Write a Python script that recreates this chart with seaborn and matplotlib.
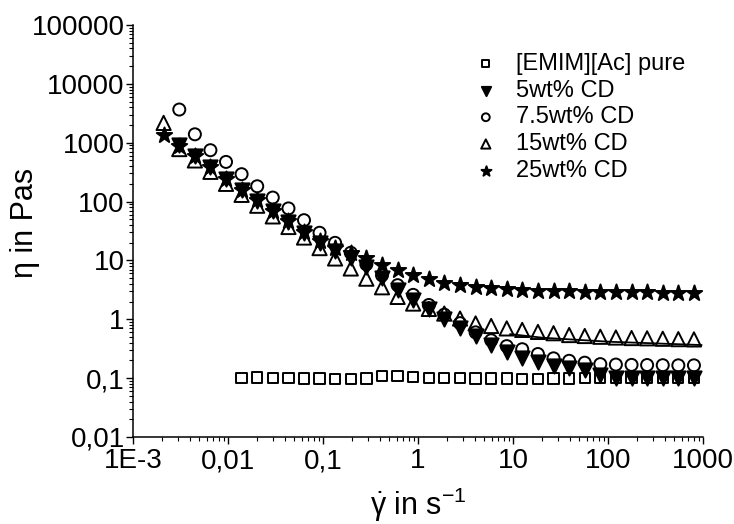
import numpy as np
import pandas as pd
import matplotlib
matplotlib.use("Agg")
import matplotlib.pyplot as plt
import seaborn as sns
from matplotlib.ticker import FixedLocator, FixedFormatter, LogLocator, NullFormatter

# ---------------- data ----------------
shear_rate = [0.0021, 0.00307, 0.00448, 0.00653, 0.00953, 0.0139, 0.0203, 0.0296,
              0.0433, 0.0631, 0.092, 0.134, 0.196, 0.286, 0.418, 0.61, 0.889, 1.3,
              1.89, 2.77, 4.04, 5.89, 8.59, 12.5, 18.3, 26.7, 39.0, 56.9, 83.0, 121,
              177, 258, 377, 550, 803]

eta_pure = [0.100, 0.102, 0.101, 0.100, 0.099, 0.099, 0.098, 0.098, 0.099, 0.108,
            0.110, 0.104, 0.101, 0.100, 0.100, 0.099, 0.099, 0.099, 0.098, 0.098,
            0.099, 0.099, 0.100, 0.100, 0.100, 0.100, 0.100, 0.100, 0.100, 0.100]

eta_5 = [900, 590, 380, 240, 156, 103, 68, 45, 29.5, 19.5, 14.5, 10.8, 7.8, 5.0,
         3.2, 2.1, 1.5, 1.0, 0.72, 0.52, 0.37, 0.28, 0.216, 0.19, 0.16, 0.15,
         0.137, 0.112, 0.102, 0.100, 0.100, 0.100, 0.100, 0.100]

eta_75 = [3660, 1390, 746, 472, 292, 182, 117, 76.5, 48.3, 29.5, 19.9, 13.5, 8.6,
          5.6, 3.8, 2.6, 1.75, 1.2, 0.86, 0.6, 0.44, 0.35, 0.31, 0.257, 0.217,
          0.197, 0.183, 0.173, 0.17, 0.168, 0.167, 0.166, 0.165, 0.165]

eta_15 = [2170, 780, 500, 320, 200, 130, 85, 56, 37, 24.5, 16.2, 10.8, 7.3, 4.9,
          3.5, 2.4, 1.85, 1.5, 1.25, 1.03, 0.85, 0.77, 0.70, 0.66, 0.61, 0.58,
          0.54, 0.52, 0.505, 0.49, 0.48, 0.475, 0.467, 0.46, 0.455]

eta_25 = [1340, 870, 600, 385, 245, 160, 105, 70, 46, 31, 21, 16, 13.2, 10.8, 8.5,
          6.9, 5.7, 4.8, 4.2, 3.8, 3.5, 3.35, 3.22, 3.13, 3.05, 3.0, 2.97, 2.94,
          2.92, 2.9, 2.88, 2.86, 2.84, 2.82, 2.8]

fit_rate = [9.3, 20.7, 105, 968]
fit_eta = [0.56, 0.485, 0.415, 0.365]

labels = ["[EMIM][Ac] pure", "5wt% CD", "7.5wt% CD", "15wt% CD", "25wt% CD"]

x_ticks = [1e-3, 1e-2, 1e-1, 1, 10, 100, 1000]
x_ticklabels = ["1E-3", "0,01", "0,1", "1", "10", "100", "1000"]
y_ticks = [1e-2, 1e-1, 1, 10, 100, 1000, 1e4, 1e5]
y_ticklabels = ["0,01", "0,1", "1", "10", "100", "1000", "10000", "100000"]

# ---------------- styling ----------------
sns.set_theme(style="white")
plt.rcParams["font.family"] = ["Liberation Sans", "DejaVu Sans"]
plt.rcParams["mathtext.fontset"] = "custom"
plt.rcParams["mathtext.rm"] = "Liberation Sans"
plt.rcParams["mathtext.it"] = "Liberation Sans"
plt.rcParams["mathtext.bf"] = "Liberation Sans:bold"

W, H = 734, 524
fig = plt.figure(figsize=(W / 100, H / 100), dpi=100)
ax = fig.add_axes([133 / W, 1 - 437 / H, 570 / W, 412 / H])

series = [
    (shear_rate[-len(eta_pure):], eta_pure, "s", "none", 55),
    (shear_rate[-len(eta_5):], eta_5, "v", "black", 105),
    (shear_rate[-len(eta_75):], eta_75, "o", "none", 75),
    (shear_rate[-len(eta_15):], eta_15, "^", "none", 105),
    (shear_rate[-len(eta_25):], eta_25, "*", "black", 135),
]

for (xs, ys, mk, fc, s), lab in zip(series, labels):
    df = pd.DataFrame({"rate": xs, "eta": ys})
    sns.scatterplot(data=df, x="rate", y="eta", marker=mk, s=s, color="black",
                    facecolor=fc, edgecolor="black", linewidth=1.4, ax=ax,
                    label=lab, zorder=3, legend=False)

fit_df = pd.DataFrame({"rate": fit_rate, "eta": fit_eta})
sns.lineplot(data=fit_df, x="rate", y="eta", color="black", linewidth=1.3,
             ax=ax, zorder=2, legend=False)

ax.set_xscale("log")
ax.set_yscale("log")
ax.set_xlim(1e-3, 1000)
ax.set_ylim(1e-2, 1e5)

ax.xaxis.set_major_locator(FixedLocator(x_ticks))
ax.xaxis.set_major_formatter(FixedFormatter(x_ticklabels))
ax.yaxis.set_major_locator(FixedLocator(y_ticks))
ax.yaxis.set_major_formatter(FixedFormatter(y_ticklabels))
ax.xaxis.set_minor_locator(LogLocator(base=10, subs=np.arange(2, 10), numticks=20))
ax.yaxis.set_minor_locator(LogLocator(base=10, subs=np.arange(2, 10), numticks=20))
ax.xaxis.set_minor_formatter(NullFormatter())
ax.yaxis.set_minor_formatter(NullFormatter())

for side in ["top", "right"]:
    ax.spines[side].set_visible(False)
for side in ["left", "bottom"]:
    ax.spines[side].set_color("black")
    ax.spines[side].set_linewidth(1.1)

ax.tick_params(which="major", direction="out", length=5, width=1.0, color="black",
               labelsize=20, labelcolor="black", bottom=True, left=True)
ax.tick_params(axis="y", which="major", pad=1)
ax.tick_params(axis="x", which="major", pad=3)
ax.tick_params(which="minor", direction="out", length=2.8, width=0.8, color="black",
               bottom=True, left=True)
ax.grid(False)

ax.set_xlabel(r"$\dot{\gamma}$ in s$^{-1}$", fontsize=22, color="black")
ax.set_ylabel("η in Pas", fontsize=22, color="black")
ax.xaxis.set_label_coords(0.5, -0.118)
ax.yaxis.set_label_coords(-0.163, 0.52)

handles, labs = ax.get_legend_handles_labels()
leg = fig.legend(handles, labs, loc="upper left",
                 bbox_to_anchor=(474 / W, 1 - 53 / H), frameon=False,
                 fontsize=17, markerscale=0.65, handlelength=1.0,
                 handletextpad=0.8, labelspacing=0.2, borderpad=0,
                 borderaxespad=0)
for t in leg.get_texts():
    t.set_color("black")

fig.savefig("out.png", dpi=100, facecolor="white")
